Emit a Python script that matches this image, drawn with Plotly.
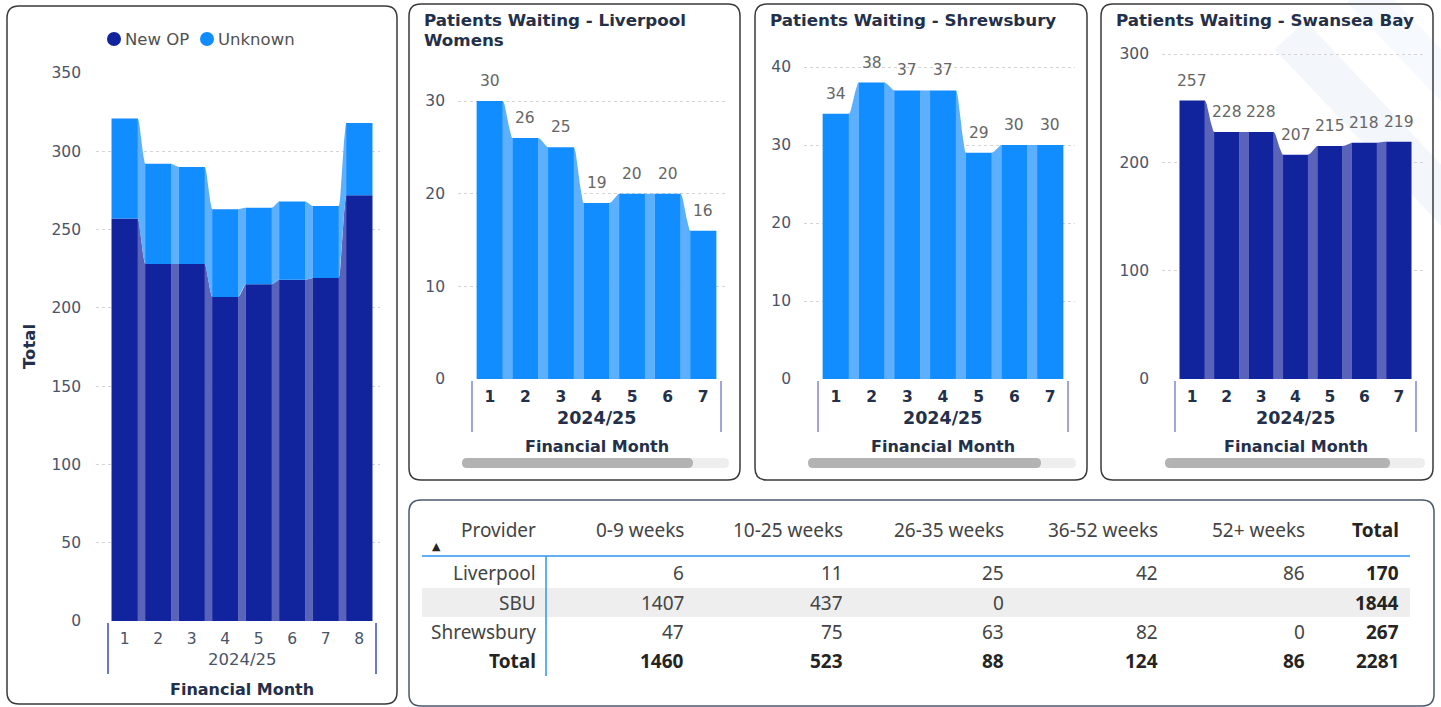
import plotly.graph_objects as go

W, H = 1441, 707

# ---------------- data ----------------
months = ["1", "2", "3", "4", "5", "6", "7", "8"]
fiscal_year = "2024/25"
new_op = [257, 228, 228, 207, 215, 218, 219, 272]
unknown = [64, 64, 62, 56, 49, 50, 46, 46]

months7 = ["1", "2", "3", "4", "5", "6", "7"]
liverpool = [30, 26, 25, 19, 20, 20, 16]
shrewsbury = [34, 38, 37, 37, 29, 30, 30]
swansea = [257, 228, 228, 207, 215, 218, 219]

providers = ["Liverpool", "SBU", "Shrewsbury"]
wait_bands = ["0-9 weeks", "10-25 weeks", "26-35 weeks", "36-52 weeks", "52+ weeks"]
liverpool_row = [6, 11, 25, 42, 86]
sbu_row = [1407, 437, 0, None, None]
shrewsbury_row = [47, 75, 63, 82, 0]
row_totals = [170, 1844, 267]
col_totals = [1460, 523, 88, 124, 86]
grand_total = 2281

# ---------------- style ----------------
NAVY = "#12239E"
NAVY_R = "#5963BA"
BLUE = "#118DFF"
BLUE_R = "#5CB0FF"
TXT = "#243049"
TICK = "#4A5468"
LBL = "#666666"
FONT = "DejaVu Sans"
TFONT = "Noto Sans"


def X(px):
    return px / W


def Y(py):
    return 1 - py / H


fig = go.Figure()
shapes = []
annotations = []


def note(text, px, py, size, color, xanchor="center", yanchor="middle", **kw):
    annotations.append(dict(text=text, x=X(px), y=Y(py), xref="paper", yref="paper",
                            xanchor=xanchor, yanchor=yanchor, showarrow=False,
                            font=dict(family=kw.pop("family", FONT), size=size, color=color),
                            **kw))


def rounded_rect(x0, y0, x1, y1, r, color, width=1.5):
    xa, xb = X(x0), X(x1)
    ya, yb = Y(y0), Y(y1)
    rx, ry = r / W, r / H
    path = (f"M {xa+rx},{ya} L {xb-rx},{ya} Q {xb},{ya} {xb},{ya-ry} "
            f"L {xb},{yb+ry} Q {xb},{yb} {xb-rx},{yb} L {xa+rx},{yb} "
            f"Q {xa},{yb} {xa},{yb+ry} L {xa},{ya-ry} Q {xa},{ya} {xa+rx},{ya} Z")
    shapes.append(dict(type="path", path=path, xref="paper", yref="paper",
                       line=dict(color=color, width=width), fillcolor="rgba(0,0,0,0)",
                       layer="above"))


def ribbons(xa, ya, bottoms, tops, bw, color):
    steps = 10
    for i in range(len(tops) - 1):
        x0 = i + bw / 2 - 0.01
        x1 = i + 1 - bw / 2 + 0.01
        xs, ys = [], []
        for k in range(steps + 1):
            t = k / steps
            s = 3 * t * t - 2 * t * t * t
            xs.append(x0 + (x1 - x0) * t)
            ys.append(tops[i] + (tops[i + 1] - tops[i]) * s)
        for k in range(steps, -1, -1):
            t = k / steps
            s = 3 * t * t - 2 * t * t * t
            xs.append(x0 + (x1 - x0) * t)
            ys.append(bottoms[i] + (bottoms[i + 1] - bottoms[i]) * s)
        fig.add_trace(go.Scatter(x=xs, y=ys, fill="toself", fillcolor=color,
                                 mode="lines", line=dict(width=0), hoverinfo="skip",
                                 showlegend=False, xaxis=xa, yaxis=ya))


def setup_axes(n, idx, GL, GR, domL, domR, domT, domB, y0px, yval_px, yval, dtick,
               ticklabels, bold_ticks, tick_right, xstand):
    cw = (GR - GL) / n
    lo = -0.5 + (domL - GL) / cw
    hi = n - 0.5 + (domR - GR) / cw
    ytop = yval * (y0px - domT) / (y0px - yval_px)
    sx = "xaxis" if idx == 1 else f"xaxis{idx}"
    sy = "yaxis" if idx == 1 else f"yaxis{idx}"
    ya_name = "y" if idx == 1 else f"y{idx}"
    xa_name = "x" if idx == 1 else f"x{idx}"
    tf = dict(family=FONT, size=15.5, color=TXT if bold_ticks else TICK)
    fig.layout[sx] = dict(domain=[X(domL), X(domR)], range=[lo, hi], anchor=ya_name,
                          tickmode="array", tickvals=list(range(n)),
                          ticktext=[f"<b>{t}</b>" if bold_ticks else t for t in ticklabels],
                          tickfont=tf, showgrid=False, zeroline=False, showline=False,
                          ticks="", ticklabelstandoff=xstand, fixedrange=True,
                          automargin=False)
    fig.layout[sy] = dict(domain=[Y(domB), Y(domT)], range=[0, ytop], anchor=xa_name,
                          dtick=dtick, tick0=0, showgrid=True, gridcolor="#D4D4D4",
                          griddash="dot", gridwidth=1, zeroline=False, showline=False,
                          tickfont=dict(family=FONT, size=15.5, color=TICK),
                          ticks="", ticklabelstandoff=tick_right, fixedrange=True,
                          automargin=False)
    for gx in (-0.5, n - 0.5):
        shapes.append(dict(type="line", xref=xa_name, yref="paper", x0=gx, x1=gx,
                           y0=Y(y0px + 2), y1=Y(y0px + 53),
                           line=dict(color="#3A4ABC" if idx == 1 else "#8189D2", width=1.5)))
    return xa_name, ya_name, (GL + GR) / 2


# ---------------- decorative background bands ----------------
shapes.append(dict(type="line", xref="paper", yref="paper", x0=X(1290), y0=Y(35),
                   x1=X(1460), y1=Y(215), line=dict(color="#F3F7FC", width=42),
                   layer="below"))
shapes.append(dict(type="line", xref="paper", yref="paper", x0=X(1360), y0=Y(-10),
                   x1=X(1460), y1=Y(95), line=dict(color="#F6F9FD", width=36),
                   layer="below"))

# ---------------- panel 1: stacked ribbon ----------------
xa, ya, cx = setup_axes(8, 1, 108, 376, 96, 380, 73, 621, 621, 73, 350, 50,
                        months, False, 14, 6)
bw1 = 0.79
idx8 = list(range(len(months)))
tot = [a + b for a, b in zip(new_op, unknown)]
ribbons(xa, ya, [0] * 8, new_op, bw1, NAVY_R)
ribbons(xa, ya, new_op, tot, bw1, BLUE_R)
fig.add_trace(go.Bar(x=idx8, y=new_op, width=bw1, marker=dict(color=NAVY, line=dict(width=0)),
                     name="New OP", showlegend=False, xaxis=xa, yaxis=ya))
fig.add_trace(go.Bar(x=idx8, y=unknown, base=new_op, width=bw1,
                     marker=dict(color=BLUE, line=dict(width=0)),
                     name="Unknown", showlegend=False, xaxis=xa, yaxis=ya))
note(fiscal_year, cx, 659, 16.5, TICK)
note("<b>Financial Month</b>", cx, 689, 16, TXT)
note("<b>Total</b>", 29, 347, 16.5, TXT, textangle=-90)
for (lx, name, col) in [(114, "New OP", NAVY), (207, "Unknown", BLUE)]:
    shapes.append(dict(type="circle", xref="paper", yref="paper",
                       x0=X(lx - 7), x1=X(lx + 7), y0=Y(46), y1=Y(32),
                       fillcolor=col, line=dict(width=0)))
    note(name, lx + 9, 39, 16.5, "#505050", xanchor="left")
rounded_rect(7, 6, 397, 704, 12, "#3A3A3A")

# ---------------- small panels ----------------
small = [
    (2, liverpool, BLUE, BLUE_R, "Patients Waiting - Liverpool<br>Womens",
     472, 721, 458, 728, 60, 101, 30, 10, 409, 740, 462, 693, 729),
    (3, shrewsbury, BLUE, BLUE_R, "Patients Waiting - Shrewsbury",
     818, 1068, 804, 1075, 60, 67, 40, 10, 755, 1087, 808, 1041, 1076),
    (4, swansea, NAVY, NAVY_R, "Patients Waiting - Swansea Bay",
     1175, 1416, 1162, 1423, 45, 54, 300, 100, 1101, 1433, 1165, 1390, 1425),
]
bw = 0.74
for (k, vals, col, rcol, title, GL, GR, dL, dR, dT, yvpx, yv, dt, pL, pR,
     sL, sT, sR) in small:
    xa, ya, cx = setup_axes(7, k, GL, GR, dL, dR, dT, 379, 379, yvpx, yv, dt,
                            months7, True, 12, 6)
    ids = list(range(len(vals)))
    ribbons(xa, ya, [0] * len(vals), vals, bw, rcol)
    fig.add_trace(go.Bar(x=ids, y=vals, width=bw, marker=dict(color=col, line=dict(width=0)),
                         showlegend=False, xaxis=xa, yaxis=ya))
    for i, v in zip(ids, vals):
        annotations.append(dict(text=str(v), x=i, y=v, xref=xa, yref=ya, showarrow=False,
                                xanchor="center", yanchor="middle", yshift=20,
                                font=dict(family=FONT, size=15.5, color=LBL)))
    for j, line in enumerate(title.split("<br>")):
        note(f"<b>{line}</b>", pL + 13, 20 + 20 * j, 16.7, TXT, xanchor="left")
    note(f"<b>{fiscal_year}</b>", cx, 418, 17.5, TXT)
    note("<b>Financial Month</b>", cx, 447, 16, TXT)
    for (a, b, c) in [(sL, sR, "#EEEEEE"), (sL, sT, "#B3B3B3")]:
        r = 5
        xa0, xa1 = X(a), X(b)
        y0, y1 = Y(468), Y(458)
        rx = r / W
        path = (f"M {xa0+rx},{y1} L {xa1-rx},{y1} Q {xa1},{y1} {xa1},{(y0+y1)/2} "
                f"Q {xa1},{y0} {xa1-rx},{y0} L {xa0+rx},{y0} Q {xa0},{y0} {xa0},{(y0+y1)/2} "
                f"Q {xa0},{y1} {xa0+rx},{y1} Z")
        shapes.append(dict(type="path", path=path, xref="paper", yref="paper",
                           fillcolor=c, line=dict(width=0), layer="above"))
    rounded_rect(pL, 4, pR, 480, 12, "#3A3A3A")

# ---------------- table ----------------
rounded_rect(409, 500, 1434, 706, 12, "#4A5A6C")
col_right = [538, 686, 845, 1006, 1160, 1307, 1401]
row_y = [573, 603, 632]
shapes.append(dict(type="rect", xref="paper", yref="paper", x0=X(422), x1=X(1410),
                   y0=Y(617), y1=Y(588), fillcolor="#EEEEEE", line=dict(width=0),
                   layer="below"))
shapes.append(dict(type="line", xref="paper", yref="paper", x0=X(422), x1=X(1410),
                   y0=Y(556), y1=Y(556), line=dict(color="#2E95F0", width=1.5)))
shapes.append(dict(type="line", xref="paper", yref="paper", x0=X(546), x1=X(546),
                   y0=Y(556), y1=Y(676), line=dict(color="#2E95F0", width=1.5)))


def tcell(text, px, py, bold=False, color="#444444"):
    note(f"<b>{text}</b>" if bold else text, px, py, 19, color, xanchor="right",
         family=TFONT)


header = ["Provider"] + wait_bands
for c, h in enumerate(header):
    tcell(h, col_right[c], 530)
tcell("Total", col_right[6], 530, bold=True, color="#252423")
note("▲", 436, 546, 11, "#252423")
rows = [liverpool_row, sbu_row, shrewsbury_row]
for r, (name, vals) in enumerate(zip(providers, rows)):
    tcell(name, col_right[0], row_y[r])
    for c, v in enumerate(vals):
        if v is not None:
            tcell(str(v), col_right[c + 1], row_y[r])
    tcell(str(row_totals[r]), col_right[6], row_y[r], bold=True, color="#252423")
tcell("Total", col_right[0], 661, bold=True, color="#252423")
for c, v in enumerate(col_totals):
    tcell(str(v), col_right[c + 1], 661, bold=True, color="#252423")
tcell(str(grand_total), col_right[6], 661, bold=True, color="#252423")

fig.update_layout(width=W, height=H, margin=dict(l=0, r=0, t=0, b=0, autoexpand=False),
                  paper_bgcolor="white", plot_bgcolor="rgba(0,0,0,0)",
                  barmode="overlay", showlegend=False, shapes=shapes,
                  annotations=annotations, font=dict(family=FONT))

fig.write_html("out.html", config={"displayModeBar": False},
               post_script="document.body.style.margin='0';document.body.style.overflow='hidden';")
